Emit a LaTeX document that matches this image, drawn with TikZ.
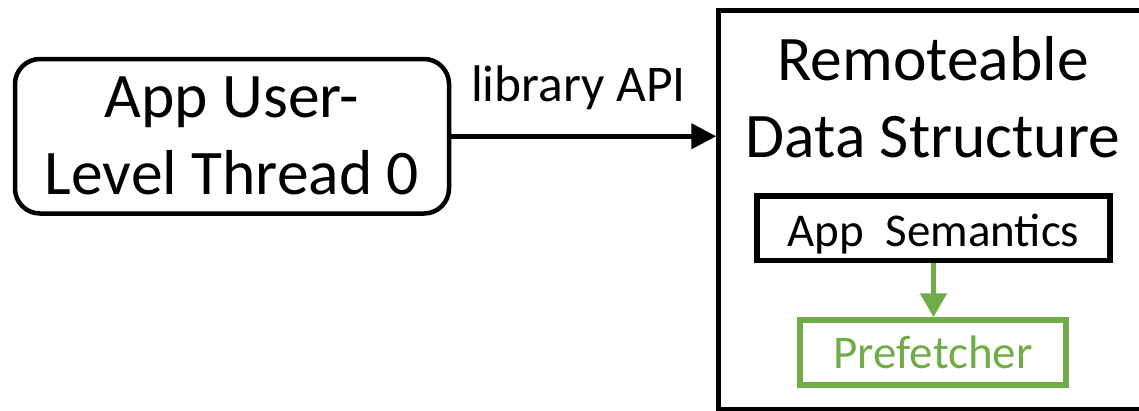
\documentclass[tikz,border=0pt]{standalone}
\usepackage{fontspec}
\setmainfont{Carlito}
\usetikzlibrary{arrows.meta,calc}
\definecolor{prefgreen}{HTML}{70AD47}
\begin{document}
\begin{tikzpicture}[x=1pt,y=-1pt,
  threadbox/.style={draw, line width=4.5pt, rounded corners=25pt,
    minimum width=434pt, minimum height=154.5pt, inner sep=0pt,
    align=center, font=\fontsize{63.5}{77}\selectfont},
  structbox/.style={draw, line width=4.5pt, minimum width=441.5pt,
    minimum height=398.5pt, inner sep=0pt},
  titletext/.style={align=center, inner sep=0pt,
    font=\fontsize{63.5}{77}\selectfont},
  semanticsbox/.style={draw, line width=5.5pt, minimum width=353pt,
    minimum height=64.5pt, inner sep=0pt, text height=46pt, text depth=10pt,
    font=\fontsize{47}{56}\selectfont},
  prefetchbox/.style={draw=prefgreen, text=prefgreen, line width=5.5pt,
    minimum width=266pt, minimum height=65pt, inner sep=0pt,
    text height=32pt, text depth=0pt, font=\fontsize{47}{56}\selectfont},
  callarrow/.style={line width=4.5pt, -{Triangle[length=25pt,width=25pt]}},
  hintarrow/.style={prefgreen, line width=5pt, -{Triangle[length=24pt,width=26pt]}},
  apilabel/.style={inner sep=0pt, anchor=base, font=\fontsize{51.5}{60}\selectfont}
]
\useasboundingbox (0,0) rectangle (1139,410);
\clip (0,0) rectangle (1139,410);

% application thread
\node[threadbox] (thread) at (232,136.25) {App User-\\Level Thread 0};

% remoteable data structure (runs off the right edge)
\node[structbox] (rds) at (939.25,209.75) {};
\node[titletext] (rdstitle) at (933,96.7) {Remoteable\\Data Structure};
\node[semanticsbox] (sem) at (933.5,228.25) {App\ \ Semantics};
\node[prefetchbox] (pref) at (933,352.5) {Prefetcher};

% connectors
\draw[callarrow] (thread.east) -- node[apilabel, pos=0.48, yshift=35pt] (api) {library API} (thread.east -| rds.west);
\draw[hintarrow] (sem.south) -- (sem.south |- pref.north);
\end{tikzpicture}
\end{document}
